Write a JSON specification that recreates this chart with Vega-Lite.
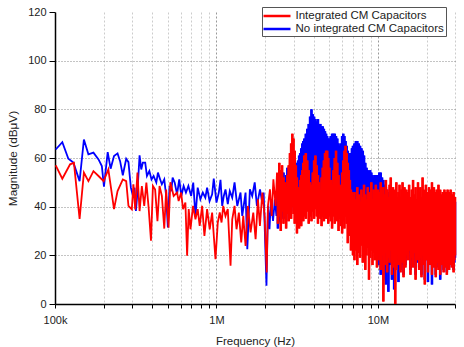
{
"$schema": "https://vega.github.io/schema/vega-lite/v6.json",
"autosize": {"type": "none"},
"width": 400,
"height": 292,
"padding": {"left": 55, "top": 12, "right": 9, "bottom": 43},
"background": "white",
"config": {"view": {"stroke": null}, "font": "Liberation Sans"},
"data": {"values": [
{"f":101,"a":57},{"f":111,"a":51.5},{"f":124,"a":57.4},{"f":131,"a":58},{"f":142,"a":35},{"f":151,"a":54},{"f":161,"a":50.5},{"f":173,"a":54.6},{"f":186,"a":52.6},{"f":200,"a":50.5},{"f":214,"a":55.3},{"f":232,"a":39},{"f":244,"a":46.4},{"f":263,"a":51.2},{"f":276,"a":50.5},{"f":285,"a":40.3},{"f":299,"a":38.9},{"f":306,"a":49.2},{"f":314,"a":38.9},{"f":324,"a":54},{"f":334,"a":38.2},{"f":345,"a":48.5},{"f":357,"a":40.3},{"f":368,"a":49.9},{"f":380,"a":39.6},{"f":393,"a":26},{"f":404,"a":48.5},{"f":417,"a":47},{"f":431,"a":34},{"f":444,"a":48.5},{"f":459,"a":44.4},{"f":475,"a":31},{"f":488,"a":47},{"f":505,"a":31.4},{"f":518,"a":50},{"f":543,"a":44.4},{"f":570,"a":45.8},{"f":583,"a":42.3},{"f":604,"a":45.8},{"f":621,"a":39},{"f":642,"a":41.7},{"f":658,"a":19.8},{"f":673,"a":39},{"f":690,"a":30.7},{"f":716,"a":40.3},{"f":741,"a":34.8},{"f":765,"a":39},{"f":787,"a":32.1},{"f":815,"a":40.3},{"f":842,"a":28},{"f":875,"a":39},{"f":908,"a":30.7},{"f":940,"a":37.6},{"f":986,"a":18.4},{"f":1019,"a":33.5},{"f":1048,"a":37.6},{"f":1075,"a":33.5},{"f":1101,"a":40.3},{"f":1137,"a":36.2},{"f":1175,"a":39},{"f":1222,"a":15.7},{"f":1252,"a":34.8},{"f":1294,"a":40.3},{"f":1331,"a":30.7},{"f":1376,"a":37.6},{"f":1423,"a":25.3},{"f":1465,"a":36.2},{"f":1514,"a":23.9},{"f":1565,"a":40.3},{"f":1626,"a":29.4},{"f":1690,"a":37.6},{"f":1747,"a":26.6},{"f":1806,"a":43},{"f":1858,"a":32.1},{"f":1923,"a":45.8},{"f":1987,"a":36.2},{"f":2046,"a":13},{"f":2084,"a":40.3},{"f":2144,"a":47.1},{"f":2198,"a":36.2},{"f":2251,"a":51.2},{"f":2324,"a":40.3},{"f":2370,"a":54},
{"f":101,"c":63.5},{"f":111,"c":66.5},{"f":121,"c":59.7},{"f":130,"c":58.1},{"f":142,"c":50.5},{"f":151,"c":67.6},{"f":161,"c":61.5},{"f":173,"c":62.2},{"f":186,"c":59.4},{"f":195,"c":56.7},{"f":201,"c":48.2},{"f":212,"c":62.4},{"f":221,"c":55.6},{"f":232,"c":60.8},{"f":244,"c":61.9},{"f":253,"c":58.7},{"f":263,"c":52.9},{"f":276,"c":59.7},{"f":285,"c":58.3},{"f":295,"c":47.8},{"f":304,"c":44.4},{"f":311,"c":47.8},{"f":317,"c":38.2},{"f":324,"c":45.8},{"f":334,"c":61.1},{"f":342,"c":55.3},{"f":350,"c":58.1},{"f":362,"c":58.1},{"f":371,"c":52.6},{"f":384,"c":54.6},{"f":396,"c":51.2},{"f":408,"c":52.6},{"f":424,"c":49.9},{"f":434,"c":54},{"f":448,"c":51.2},{"f":459,"c":49.2},{"f":475,"c":51.2},{"f":488,"c":44.4},{"f":500,"c":31.5},{"f":512,"c":48.5},{"f":525,"c":46.4},{"f":535,"c":51.9},{"f":551,"c":49.9},{"f":570,"c":45.1},{"f":588,"c":51.2},{"f":606,"c":44.4},{"f":626,"c":48.5},{"f":647,"c":45.8},{"f":670,"c":48.5},{"f":697,"c":44.4},{"f":718,"c":49.9},{"f":741,"c":36},{"f":765,"c":47.8},{"f":795,"c":43},{"f":823,"c":45.8},{"f":853,"c":43.7},{"f":875,"c":47.8},{"f":906,"c":42.3},{"f":940,"c":45.1},{"f":962,"c":51.5},{"f":1000,"c":41.7},{"f":1034,"c":45.8},{"f":1059,"c":51},{"f":1085,"c":40.3},{"f":1110,"c":44.4},{"f":1137,"c":47.1},{"f":1175,"c":41},{"f":1209,"c":46.4},{"f":1252,"c":43.7},{"f":1294,"c":50},{"f":1345,"c":40.3},{"f":1409,"c":45.8},{"f":1444,"c":36.2},{"f":1514,"c":45.8},{"f":1552,"c":22.5},{"f":1610,"c":47.1},{"f":1665,"c":44.4},{"f":1725,"c":50},{"f":1780,"c":40.3},{"f":1860,"c":47.1},{"f":1920,"c":41.7},{"f":1960,"c":45.8},{"f":2040,"c":7.5},{"f":2084,"c":40.3},{"f":2130,"c":30.7},{"f":2175,"c":43},{"f":2240,"c":34.1},{"f":2300,"c":43},{"f":2350,"c":36.2},
{"f":2400,"a":52,"b":33,"c":50,"d":31},{"f":2450,"a":58,"b":36,"c":47,"d":34},{"f":2500,"a":55,"b":30,"c":52,"d":33},{"f":2550,"a":57,"b":38,"c":49,"d":36},{"f":2600,"a":52,"b":33,"c":54,"d":35},{"f":2650,"a":50,"b":36,"c":51,"d":38},{"f":2700,"a":48,"b":31,"c":53,"d":34},{"f":2750,"a":53,"b":37,"c":56,"d":39},{"f":2800,"a":57,"b":34,"c":52,"d":37},{"f":2850,"a":62,"b":38,"c":55,"d":40},{"f":2900,"a":66,"b":35,"c":53,"d":38},{"f":2950,"a":70,"b":40,"c":56,"d":41},{"f":3000,"a":68,"b":37,"c":54,"d":40},{"f":3050,"a":63,"b":33,"c":57,"d":42},{"f":3100,"a":57,"b":36,"c":55,"d":39},{"f":3150,"a":52,"b":29,"c":58,"d":43},{"f":3200,"a":48,"b":34,"c":59,"d":41},{"f":3250,"a":46,"b":31,"c":61,"d":44},{"f":3300,"a":51,"b":35,"c":62,"d":42},{"f":3350,"a":53,"b":32,"c":64,"d":45},{"f":3400,"a":55,"b":37,"c":66,"d":43},{"f":3450,"a":58,"b":34,"c":67,"d":46},{"f":3500,"a":61,"b":36,"c":68,"d":44},
{"f":3575,"a":62,"b":35,"c":70,"d":45},{"f":3650,"a":59,"b":38,"c":72,"d":47},{"f":3725,"a":55,"b":33,"c":74,"d":44},{"f":3800,"a":50,"b":36,"c":77,"d":48},{"f":3875,"a":49,"b":34,"c":80,"d":46},{"f":3950,"a":54,"b":38,"c":78,"d":49},{"f":4025,"a":59,"b":35,"c":77,"d":45},{"f":4100,"a":61,"b":39,"c":76,"d":48},{"f":4175,"a":57,"b":36,"c":75,"d":46},{"f":4250,"a":53,"b":33,"c":76,"d":47},{"f":4325,"a":50,"b":37,"c":74,"d":45},{"f":4400,"a":47,"b":35,"c":74,"d":48},{"f":4475,"a":52,"b":32,"c":73,"d":46},{"f":4550,"a":56,"b":36,"c":73,"d":44},{"f":4625,"a":59,"b":34,"c":72,"d":47},{"f":4700,"a":62,"b":38,"c":71,"d":45},{"f":4775,"a":63,"b":35,"c":70,"d":48},{"f":4850,"a":63,"b":37,"c":69,"d":46},{"f":4925,"a":60,"b":33,"c":68,"d":44},{"f":5000,"a":56,"b":36,"c":68,"d":47},
{"f":5100,"a":51,"b":34,"c":69,"d":45},{"f":5200,"a":49,"b":31,"c":70,"d":47},{"f":5300,"a":55,"b":36,"c":70,"d":44},{"f":5400,"a":60,"b":33,"c":70,"d":46},{"f":5500,"a":63,"b":37,"c":69,"d":48},{"f":5600,"a":58,"b":34,"c":68,"d":45},{"f":5700,"a":53,"b":30,"c":66,"d":47},{"f":5800,"a":49,"b":35,"c":65,"d":44},{"f":5900,"a":48,"b":32,"c":66,"d":46},{"f":6000,"a":54,"b":29,"c":69,"d":43},{"f":6100,"a":59,"b":34,"c":70,"d":46},{"f":6200,"a":63,"b":31,"c":69,"d":44},{"f":6300,"a":65,"b":36,"c":67,"d":45},{"f":6400,"a":62,"b":33,"c":65,"d":42},{"f":6500,"a":58,"b":25,"c":63,"d":44},{"f":6600,"a":55,"b":31,"c":62,"d":41},{"f":6700,"a":51,"b":28,"c":61,"d":43},{"f":6800,"a":47,"b":22,"c":62,"d":40},{"f":6900,"a":46,"b":24,"c":64,"d":42},{"f":7000,"a":44,"b":20,"c":65,"d":39},
{"f":7150,"a":46,"b":18,"c":66,"d":40},{"f":7300,"a":43,"b":22,"c":67,"d":38},{"f":7450,"a":48,"b":16,"c":67,"d":41},{"f":7600,"a":45,"b":21,"c":66,"d":37},{"f":7750,"a":42,"b":19,"c":65,"d":39},{"f":7900,"a":47,"b":24,"c":64,"d":36},{"f":8050,"a":44,"b":17,"c":63,"d":38},{"f":8200,"a":49,"b":22,"c":61,"d":35},{"f":8350,"a":45,"b":14,"c":58,"d":37},{"f":8500,"a":43,"b":20,"c":56,"d":34},{"f":8650,"a":48,"b":23,"c":55,"d":36},{"f":8800,"a":44,"b":10,"c":54,"d":33},{"f":8950,"a":46,"b":19,"c":55,"d":35},{"f":9100,"a":50,"b":22,"c":54,"d":32},{"f":9250,"a":43,"b":16,"c":53,"d":34},{"f":9400,"a":47,"b":21,"c":52,"d":31},{"f":9550,"a":45,"b":18,"c":53,"d":33},{"f":9700,"a":49,"b":23,"c":53,"d":30},{"f":9850,"a":44,"b":15,"c":52,"d":29},{"f":10000,"a":47,"b":20,"c":53,"d":31},
{"f":10200,"a":46,"b":18,"c":54,"d":16},{"f":10400,"a":50,"b":14,"c":54,"d":12},{"f":10600,"a":44,"b":20,"c":52,"d":17},{"f":10800,"a":48,"b":1,"c":51,"d":10},{"f":11000,"a":45,"b":16,"c":49,"d":14},{"f":11200,"a":51,"b":21,"c":48,"d":8},{"f":11400,"a":47,"b":13,"c":47,"d":15},{"f":11600,"a":44,"b":19,"c":46,"d":5},{"f":11800,"a":49,"b":17,"c":45,"d":16},{"f":12000,"a":52,"b":22,"c":44,"d":19},{"f":12200,"a":45,"b":12,"c":43,"d":10},{"f":12400,"a":48,"b":18,"c":42,"d":17},{"f":12600,"a":43,"b":15,"c":42,"d":6},{"f":12800,"a":47,"b":0,"c":41,"d":14},{"f":13000,"a":50,"b":14,"c":41,"d":16},{"f":13200,"a":44,"b":20,"c":41,"d":18},{"f":13400,"a":46,"b":16,"c":40,"d":9},{"f":13600,"a":49,"b":19,"c":41,"d":17},{"f":13800,"a":44,"b":13,"c":40,"d":14},{"f":14000,"a":47,"b":21,"c":40,"d":19},{"f":14200,"a":50,"b":17,"c":41,"d":16},{"f":14400,"a":45,"b":11,"c":42,"d":12},{"f":14600,"a":48,"b":19,"c":41,"d":18},{"f":14800,"a":44,"b":15,"c":42,"d":16},{"f":15000,"a":47,"b":20,"c":41,"d":19},
{"f":15300,"a":46,"b":18,"c":42,"d":19},{"f":15600,"a":49,"b":22,"c":41,"d":21},{"f":15900,"a":44,"b":12,"c":42,"d":14},{"f":16200,"a":47,"b":19,"c":43,"d":18},{"f":16500,"a":51,"b":15,"c":42,"d":16},{"f":16800,"a":45,"b":21,"c":41,"d":20},{"f":17100,"a":48,"b":10,"c":42,"d":12},{"f":17400,"a":43,"b":18,"c":43,"d":17},{"f":17700,"a":50,"b":22,"c":42,"d":21},{"f":18000,"a":46,"b":14,"c":41,"d":15},{"f":18300,"a":48,"b":19,"c":42,"d":18},{"f":18600,"a":44,"b":11,"c":43,"d":12},{"f":18900,"a":52,"b":20,"c":42,"d":19},{"f":19200,"a":47,"b":16,"c":41,"d":17},{"f":19500,"a":45,"b":8,"c":42,"d":10},{"f":19800,"a":49,"b":18,"c":43,"d":18},{"f":20100,"a":46,"b":21,"c":42,"d":20},{"f":20400,"a":43,"b":13,"c":41,"d":9},{"f":20700,"a":48,"b":19,"c":42,"d":18},{"f":21000,"a":45,"b":16,"c":43,"d":17},{"f":21300,"a":47,"b":22,"c":42,"d":21},{"f":21600,"a":50,"b":12,"c":43,"d":8},{"f":21900,"a":44,"b":18,"c":42,"d":17},{"f":22200,"a":48,"b":15,"c":43,"d":16},{"f":22500,"a":46,"b":20,"c":44,"d":19},{"f":22800,"a":43,"b":11,"c":43,"d":12},{"f":23100,"a":47,"b":17,"c":44,"d":18},{"f":23400,"a":45,"b":21,"c":43,"d":20},{"f":23700,"a":49,"b":14,"c":44,"d":15},{"f":24000,"a":44,"b":19,"c":45,"d":18},{"f":24300,"a":47,"b":12,"c":44,"d":10},{"f":24600,"a":45,"b":18,"c":44,"d":17},{"f":24900,"a":42,"b":16,"c":43,"d":17},{"f":25200,"a":46,"b":21,"c":44,"d":20},{"f":25500,"a":44,"b":13,"c":45,"d":14},{"f":25800,"a":47,"b":19,"c":44,"d":18},{"f":26100,"a":43,"b":15,"c":43,"d":16},{"f":26400,"a":46,"b":20,"c":44,"d":19},{"f":26700,"a":44,"b":12,"c":45,"d":13},{"f":27000,"a":47,"b":18,"c":44,"d":17},{"f":27300,"a":43,"b":22,"c":43,"d":21},{"f":27600,"a":46,"b":14,"c":44,"d":15},{"f":27900,"a":44,"b":19,"c":45,"d":18},{"f":28200,"a":47,"b":16,"c":44,"d":17},{"f":28500,"a":43,"b":21,"c":44,"d":20},{"f":28800,"a":45,"b":15,"c":43,"d":16},{"f":29100,"a":44,"b":19,"c":44,"d":18},{"f":29400,"a":46,"b":13,"c":44,"d":14},{"f":29700,"a":43,"b":18,"c":43,"d":17},{"f":30000,"a":44,"b":20,"c":42,"d":19}
]},
"encoding": {
  "x": {"field": "f", "type": "quantitative",
    "scale": {"type": "log", "domain": [100, 30000], "nice": false},
    "axis": {
      "values": [100,200,300,400,500,600,700,800,900,1000,2000,3000,4000,5000,6000,7000,8000,9000,10000,20000,30000],
      "labelExpr": "datum.value == 100 ? '100k' : datum.value == 1000 ? '1M' : datum.value == 10000 ? '10M' : ''",
      "labelOverlap": false, "labelFlush": false,
      "title": "Frequency (Hz)", "titleFontSize": 11.5, "titleFontWeight": "normal", "titleColor": "#222", "titlePadding": 10,
      "labelFontSize": 11, "labelColor": "#222", "labelPadding": 6,
      "tickSize": 4, "tickColor": "black", "domainColor": "black", "domainWidth": 1.5,
      "grid": true,
      "gridColor": {"condition": {"test": "datum.value == 1000 || datum.value == 10000", "value": "#999999"}, "value": "#cccccc"},
      "gridDash": [2, 2],
      "gridOpacity": {"condition": {"test": "datum.value == 100", "value": 0}, "value": 1}
    }},
  "y": {"field": "v", "type": "quantitative",
    "scale": {"domain": [0, 120], "nice": false},
    "axis": {
      "values": [0, 20, 40, 60, 80, 100, 120],
      "title": "Magnitude (dBμV)", "titleFontSize": 11.8, "titleFontWeight": "normal", "titleColor": "#222", "titlePadding": 9,
      "labelFontSize": 11, "labelColor": "#222", "labelPadding": 3,
      "tickSize": 6, "tickColor": "black", "domainColor": "black", "domainWidth": 1.5,
      "grid": true, "gridColor": "#888888", "gridDash": [1, 2],
      "gridOpacity": {"condition": {"test": "datum.value == 0 || datum.value == 120", "value": 0}, "value": 1}
    }}
},
"layer": [
  {"transform": [{"fold": ["c", "d"], "as": ["k", "v"]}, {"filter": "isValid(datum.v)"}],
   "mark": {"type": "line", "strokeWidth": 1.8},
   "encoding": {
     "color": {"datum": "No integrated CM Capacitors", "type": "nominal",
       "scale": {"domain": ["Integrated CM Capacitors", "No integrated CM Capacitors"], "range": ["#ff0000", "#0000ff"]},
       "legend": {"orient": "none", "legendX": 207, "legendY": -5, "direction": "vertical", "title": null,
         "strokeColor": "#555555", "fillColor": "white", "padding": 1.5, "rowPadding": 0,
         "symbolType": "M-2.25,0H2.25", "symbolSize": 144, "symbolStrokeWidth": 2.5, "symbolOffset": 6,
         "labelOffset": 11, "labelFontSize": 11.5, "labelColor": "#222"}},
     "order": [{"field": "f", "type": "quantitative"}, {"field": "k", "type": "nominal"}]}},
  {"transform": [{"filter": "isValid(datum.d)"}],
   "mark": {"type": "rule", "strokeWidth": 2.6},
   "encoding": {
     "y": {"field": "c", "type": "quantitative"},
     "y2": {"field": "d"},
     "color": {"datum": "No integrated CM Capacitors", "type": "nominal"}}},
  {"transform": [{"fold": ["a", "b"], "as": ["k", "v"]}, {"filter": "isValid(datum.v)"}],
   "mark": {"type": "line", "strokeWidth": 1.8},
   "encoding": {
     "color": {"datum": "Integrated CM Capacitors", "type": "nominal"},
     "order": [{"field": "f", "type": "quantitative"}, {"field": "k", "type": "nominal"}]}},
  {"transform": [{"filter": "isValid(datum.b)"}],
   "mark": {"type": "rule", "strokeWidth": 2.6},
   "encoding": {
     "y": {"field": "a", "type": "quantitative"},
     "y2": {"field": "b"},
     "color": {"datum": "Integrated CM Capacitors", "type": "nominal"}}}
]
}
